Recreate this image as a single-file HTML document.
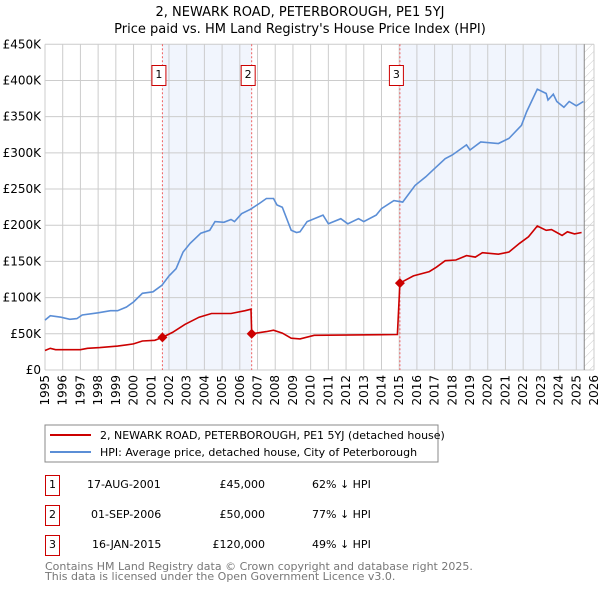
<!DOCTYPE html>
<html><head><meta charset="utf-8"><style>
body{margin:0;background:#fff;font-family:"Liberation Sans","DejaVu Sans",sans-serif;}
svg text{font-family:"DejaVu Sans","Liberation Sans",sans-serif;}
</style></head><body>
<svg id="chart" width="600" height="590" xmlns="http://www.w3.org/2000/svg">
<defs><pattern id="hatch" width="6" height="6" patternUnits="userSpaceOnUse" patternTransform="rotate(45)"><line x1="0" y1="0" x2="0" y2="6" stroke="#ccc" stroke-width="1"/></pattern></defs>
<text x="300" y="16" text-anchor="middle" font-size="13">2, NEWARK ROAD, PETERBOROUGH, PE1 5YJ</text>
<text x="300" y="33" text-anchor="middle" font-size="13">Price paid vs. HM Land Registry's House Price Index (HPI)</text>
<g id="plot"></g>
<rect x="45" y="425" width="393" height="37" fill="#fff" stroke="#888"/>
<line x1="50" y1="435" x2="91" y2="435" stroke="#cc0000" stroke-width="2"/>
<text x="100" y="439" font-size="11">2, NEWARK ROAD, PETERBOROUGH, PE1 5YJ (detached house)</text>
<line x1="50" y1="452" x2="91" y2="452" stroke="#5b8ed6" stroke-width="2"/>
<text x="100" y="456" font-size="11">HPI: Average price, detached house, City of Peterborough</text>
<g font-size="11">
<rect x="45.5" y="475.5" width="14" height="20" fill="#fff" stroke="#cc0000"/><text x="52.5" y="488" text-anchor="middle">1</text>
<text x="87" y="488">17-AUG-2001</text><text x="265" y="488" text-anchor="end">£45,000</text><text x="312" y="488">62% ↓ HPI</text>
<rect x="45.5" y="505.5" width="14" height="20" fill="#fff" stroke="#cc0000"/><text x="52.5" y="518" text-anchor="middle">2</text>
<text x="91" y="518">01-SEP-2006</text><text x="265" y="518" text-anchor="end">£50,000</text><text x="312" y="518">77% ↓ HPI</text>
<rect x="45.5" y="535.5" width="14" height="20" fill="#fff" stroke="#cc0000"/><text x="52.5" y="548" text-anchor="middle">3</text>
<text x="92" y="548">16-JAN-2015</text><text x="265" y="548" text-anchor="end">£120,000</text><text x="312" y="548">49% ↓ HPI</text>
</g>
<text x="45" y="570" font-size="11" fill="#777">Contains HM Land Registry data © Crown copyright and database right 2025.</text>
<text x="45" y="580" font-size="11" fill="#777">This data is licensed under the Open Government Licence v3.0.</text>
</svg>
<script>
const hpiYears=[1995.0,1995.3,1995.9,1996.4,1996.8,1997.1,1998.0,1998.7,1999.1,1999.6,2000.0,2000.5,2001.1,2001.6,2002.0,2002.4,2002.8,2003.2,2003.8,2004.3,2004.6,2005.1,2005.5,2005.7,2006.1,2006.6,2007.1,2007.5,2007.9,2008.1,2008.4,2008.9,2009.2,2009.4,2009.8,2010.7,2011.0,2011.7,2012.1,2012.7,2013.0,2013.7,2014.0,2014.7,2015.2,2015.9,2016.5,2016.9,2017.6,2018.0,2018.8,2019.0,2019.6,2020.6,2021.2,2021.9,2022.2,2022.8,2023.3,2023.4,2023.7,2023.9,2024.3,2024.6,2025.0,2025.4];
const hpiValues=[69,75,73,70,71,76,79,82,82,87,94,106,108,117,130,140,163,175,189,193,205,204,208,205,216,222,230,237,237,228,225,193,190,191,205,214,202,209,202,209,205,214,223,234,232,255,267,276,292,297,311,304,315,313,320,338,357,388,382,373,381,371,363,371,365,371];
const redYears=[1995.0,1995.3,1995.6,1997.0,1997.4,1998.1,1999.1,2000.0,2000.5,2001.2,2001.63,2002.2,2002.9,2003.7,2004.4,2004.8,2005.5,2006.3,2006.63,2006.67,2007.5,2007.9,2008.4,2008.9,2009.4,2010.2,2014.9,2015.04,2015.8,2016.7,2017.1,2017.6,2018.2,2018.8,2019.3,2019.7,2020.6,2021.2,2021.8,2022.3,2022.8,2023.3,2023.6,2023.9,2024.2,2024.5,2024.9,2025.3];
const redValues=[27,30,28,28,30,31,33,36,40,41,45,52,63,73,78,78,78,82,84,50,53,55,51,44,43,48,49,120,130,136,142,151,152,158,156,162,160,163,175,184,199,193,194,190,186,191,188,190];
const saleYears=[2001.63,2006.67,2015.04];
const saleValues=[45,50,120];
const saleLabels=["1","2","3"];
const yTicks=[0,50,100,150,200,250,300,350,400,450];
const yTickLabels=["£0","£50K","£100K","£150K","£200K","£250K","£300K","£350K","£400K","£450K"];
const xStart=1995,xEnd=2026,dataEnd=2025.45;

const L=45,R=594,T=44.3,B=370;
const X=y=>L+(y-xStart)/(xEnd-xStart)*(R-L);
const Y=v=>B-v/450*(B-T);
const g=document.getElementById('plot');
const NS='http://www.w3.org/2000/svg';
function mk(t,a){const e=document.createElementNS(NS,t);for(const k in a)e.setAttribute(k,a[k]);g.appendChild(e);return e;}
let e;
e=mk('rect',{x:L,y:T,width:R-L,height:B-T,fill:'#fff'});


e=mk('rect',{x:X(saleYears[0]),y:T,width:X(saleYears[1])-X(saleYears[0]),height:B-T,fill:'#eef3fc',opacity:0.8});


e=mk('rect',{x:X(saleYears[2]),y:T,width:X(dataEnd)-X(saleYears[2]),height:B-T,fill:'#eef3fc',opacity:0.8});


e=mk('rect',{x:X(dataEnd),y:T,width:R-X(dataEnd),height:B-T,fill:'url(#hatch)'});


for(let yr=xStart;yr<=xEnd;yr++){
  e=mk('line',{x1:X(yr),x2:X(yr),y1:T,y2:B,stroke:'#ccc','stroke-width':1});
  
  
  e=mk('text',{x:0,y:0,'font-size':12,'text-anchor':'end',transform:`translate(${X(yr)+4},${B+5}) rotate(-90)`});
  e.textContent=yr;
  
  
}
yTicks.forEach((v,i)=>{
  e=mk('line',{x1:L,x2:R,y1:Y(v),y2:Y(v),stroke:'#ccc','stroke-width':1});
  
  
  e=mk('text',{x:L-4,y:Y(v)+4,'font-size':12,'text-anchor':'end'});
  e.textContent=yTickLabels[i];
  
  
});
e=mk('line',{x1:X(dataEnd),x2:X(dataEnd),y1:T,y2:B,stroke:'#888','stroke-width':1});


saleYears.forEach((yr,i)=>{
  e=mk('line',{x1:X(yr),x2:X(yr),y1:T,y2:B,stroke:'#f06060','stroke-width':1,'stroke-dasharray':'2,2'});
  
  
});
e=mk('path',{d:hpiYears.map((y,i)=>(i?'L':'M')+X(y).toFixed(1)+','+Y(hpiValues[i]).toFixed(1)).join(''),fill:'none',stroke:'#5b8ed6','stroke-width':1.6});


e=mk('path',{d:redYears.map((y,i)=>(i?'L':'M')+X(y).toFixed(1)+','+Y(redValues[i]).toFixed(1)).join(''),fill:'none',stroke:'#cc0000','stroke-width':1.6});


saleYears.forEach((yr,i)=>{
  const cx=X(yr),cy=Y(saleValues[i]);
  e=mk('path',{d:`M${cx},${cy-5}L${cx+5},${cy}L${cx},${cy+5}L${cx-5},${cy}Z`,fill:'#cc0000'});
  
  
  e=mk('rect',{x:cx-10.5,y:65.5,width:14,height:20,fill:'#fff',stroke:'#cc0000'});
  
  
  e=mk('text',{x:cx-3.5,y:78,'font-size':11,'text-anchor':'middle'});
  e.textContent=saleLabels[i];
  
  
});
</script>
</body></html>
